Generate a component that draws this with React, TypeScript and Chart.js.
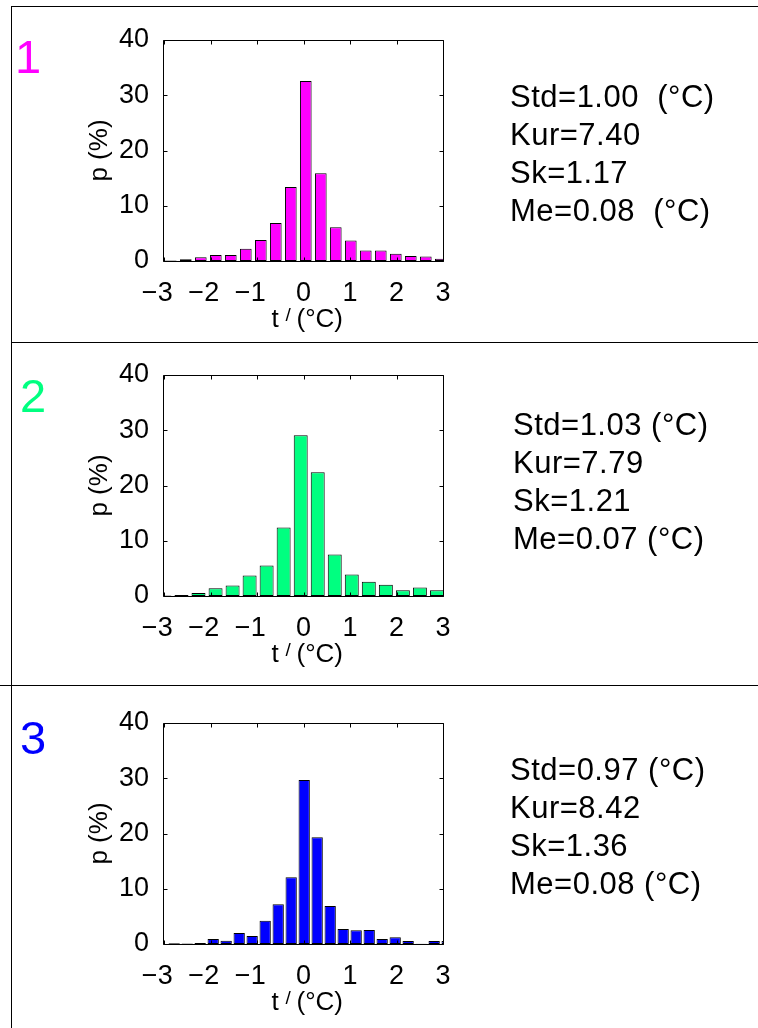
import React, { useEffect, useRef } from "react";
import { Chart, registerables } from "chart.js";
Chart.register(...registerables);

const FONT = "'Liberation Sans', Arial, Helvetica, sans-serif";
Chart.defaults.font.family = FONT;

// ---- data ----
const xTickValues = [-3, -2, -1, 0, 1, 2, 3];
const yAxisMax = 40;

const centers1 = [-2.854, -2.531, -2.209, -1.886, -1.564, -1.241, -0.918, -0.596, -0.273, 0.049, 0.372, 0.694, 1.017, 1.339, 1.662, 1.985, 2.307, 2.63, 2.952];
const values1 = [0.1, 0.3, 0.7, 1.1, 1.1, 2.2, 3.8, 6.9, 13.4, 32.6, 15.9, 6.1, 3.7, 1.9, 1.9, 1.3, 0.9, 0.8, 0.4];

const centers2 = [-2.99, -2.624, -2.258, -1.891, -1.525, -1.159, -0.793, -0.427, -0.06, 0.306, 0.672, 1.038, 1.404, 1.771, 2.137, 2.503, 2.869];
const values2 = [0.1, 0.2, 0.55, 1.4, 1.9, 3.7, 5.5, 12.4, 29.1, 22.4, 7.5, 3.9, 2.6, 2.05, 1.05, 1.55, 1.05];

const centers3 = [-2.781, -2.501, -2.222, -1.942, -1.663, -1.383, -1.104, -0.824, -0.544, -0.265, 0.015, 0.294, 0.574, 0.853, 1.133, 1.413, 1.692, 1.972, 2.251, 2.531, 2.81, 3.09];
const values3 = [0.15, 0.1, 0.2, 0.9, 0.6, 2.0, 1.45, 4.2, 7.2, 12.1, 29.7, 19.3, 6.9, 2.7, 2.5, 2.55, 0.9, 1.2, 0.55, 0.05, 0.55, 0.55];

const stats1 = ["Std=1.00  (°C)", "Kur=7.40", "Sk=1.17", "Me=0.08  (°C)"];
const stats2 = ["Std=1.03 (°C)", "Kur=7.79", "Sk=1.21", "Me=0.07 (°C)"];
const stats3 = ["Std=0.97 (°C)", "Kur=8.42", "Sk=1.36", "Me=0.08 (°C)"];

const panelLabels = ["1", "2", "3"];
const yTitle = "p (%)";

const fmtTick = (v: number) => (v < 0 ? "\u2212" + Math.abs(v) + "\u2002" : String(v));

const boxPlugin = {
  id: "boxTicks",
  afterDatasetsDraw(chart: any) {
    const { ctx, chartArea: a, scales } = chart;
    const x = scales.x;
    const y = scales.y;
    ctx.save();
    ctx.strokeStyle = "#000";
    ctx.lineWidth = 1;
    const L = Math.round(a.left) - 0.5;
    const R = Math.round(a.right) + 0.5;
    const T = Math.round(a.top) + 0.5;
    const B = Math.round(a.bottom) + 0.5;
    ctx.beginPath();
    ctx.moveTo(L, T);
    ctx.lineTo(R, T);
    ctx.lineTo(R, B);
    ctx.lineTo(L, B);
    ctx.closePath();
    const tl = 4;
    x.ticks.forEach((tk: any) => {
      const px = Math.round(x.getPixelForValue(tk.value)) + 0.5;
      ctx.moveTo(px, T);
      ctx.lineTo(px, T + tl);
      ctx.moveTo(px, B);
      ctx.lineTo(px, B - tl);
    });
    y.ticks.forEach((tk: any) => {
      const py = Math.round(y.getPixelForValue(tk.value)) + 0.5;
      ctx.moveTo(L, py);
      ctx.lineTo(L + tl, py);
      ctx.moveTo(R, py);
      ctx.lineTo(R - tl, py);
    });
    ctx.stroke();

    // x axis title: t^/ (°C)
    const cx = (a.left + a.right) / 2;
    const by = a.bottom + 66;
    ctx.fillStyle = "#000";
    ctx.textAlign = "left";
    ctx.textBaseline = "alphabetic";
    ctx.font = `26px ${FONT}`;
    ctx.fillText("t", cx - 32, by);
    ctx.font = `19px ${FONT}`;
    ctx.fillText("/", cx - 18, by - 6);
    ctx.font = `26px ${FONT}`;
    ctx.fillText("(°C)", cx - 7, by);
    ctx.restore();
  },
};

type PanelProps = {
  centers: number[];
  values: number[];
  color: string;
  barPct: number;
  top: number;
};

function Panel({ centers, values, color, barPct, top }: PanelProps) {
  const ref = useRef<HTMLCanvasElement>(null);
  useEffect(() => {
    if (!ref.current) return;
    const chart = new Chart(ref.current, {
      type: "bar",
      data: {
        datasets: [
          {
            data: centers.map((c, i) => ({ x: c, y: values[i] })),
            backgroundColor: color,
            borderColor: "#000",
            borderWidth: 1,
            borderSkipped: false,
            barPercentage: barPct,
            categoryPercentage: 1,
            clip: 0,
          } as any,
        ],
      },
      options: {
        responsive: false,
        animation: false,
        devicePixelRatio: 1,
        layout: { padding: { top: 35, right: 315, bottom: 0, left: 0 } },
        plugins: { legend: { display: false }, tooltip: { enabled: false } },
        scales: {
          x: {
            type: "linear",
            min: -3,
            max: 3,
            offset: false,
            grid: { display: false },
            border: { display: false },
            afterBuildTicks: (s: any) => {
              s.ticks = xTickValues.map((v) => ({ value: v }));
            },
            ticks: {
              padding: 8,
              color: "#000",
              font: { family: FONT, size: 27 },
              maxRotation: 0,
              autoSkip: false,
              callback: (v: any) => fmtTick(Number(v)),
            },
            afterFit: (s: any) => {
              s.height = 80;
            },
          },
          y: {
            min: 0,
            max: yAxisMax,
            grid: { display: false },
            border: { display: false },
            ticks: {
              stepSize: 10,
              padding: 7,
              color: "#000",
              font: { family: FONT, size: 27 },
            },
            title: {
              display: true,
              text: yTitle,
              color: "#000",
              font: { family: FONT, size: 26 },
              padding: { top: 84, bottom: 0 },
            },
            afterFit: (s: any) => {
              s.width = 164;
            },
          },
        } as any,
      },
      plugins: [boxPlugin],
    });
    return () => chart.destroy();
  }, []);
  return (
    <canvas
      ref={ref}
      width={758}
      height={336}
      style={{ position: "absolute", left: 0, top, width: 758, height: 336 }}
    />
  );
}

const line = (style: React.CSSProperties) => (
  <div style={{ position: "absolute", background: "#000", ...style }} />
);

function Stats({ lines, left, top }: { lines: string[]; left: number; top: number }) {
  return (
    <div
      style={{
        position: "absolute",
        left,
        top,
        fontFamily: FONT,
        fontSize: 31,
        lineHeight: "38px",
        letterSpacing: "0.5px",
        whiteSpace: "pre",
        color: "#000",
      }}
    >
      {lines.map((l, i) => (
        <div key={i}>{l}</div>
      ))}
    </div>
  );
}

function Num({ text, color, left, top }: { text: string; color: string; left: number; top: number }) {
  return (
    <div
      style={{
        position: "absolute",
        left,
        top,
        fontFamily: FONT,
        fontSize: 47,
        lineHeight: "47px",
        color,
      }}
    >
      {text}
    </div>
  );
}

export default function App() {
  return (
    <div
      style={{
        position: "absolute",
        left: 0,
        top: 0,
        width: 758,
        height: 1028,
        background: "#fff",
        overflow: "hidden",
      }}
    >
      {line({ left: 11, top: 6, width: 747, height: 1 })}
      {line({ left: 11, top: 6, width: 1, height: 1022 })}
      {line({ left: 11, top: 342, width: 747, height: 1 })}
      {line({ left: 0, top: 685, width: 758, height: 1 })}

      <Panel centers={centers1} values={values1} color="#ff00ff" barPct={0.78} top={5} />
      <Panel centers={centers2} values={values2} color="#00ff80" barPct={0.82} top={340} />
      <Panel centers={centers3} values={values3} color="#0000ff" barPct={0.87} top={688} />

      <Num text={panelLabels[0]} color="#ff00ff" left={15} top={33} />
      <Num text={panelLabels[1]} color="#00ff80" left={20} top={372} />
      <Num text={panelLabels[2]} color="#0000ff" left={20} top={714} />

      <Stats lines={stats1} left={510} top={78} />
      <Stats lines={stats2} left={513} top={406} />
      <Stats lines={stats3} left={510} top={751} />
    </div>
  );
}
